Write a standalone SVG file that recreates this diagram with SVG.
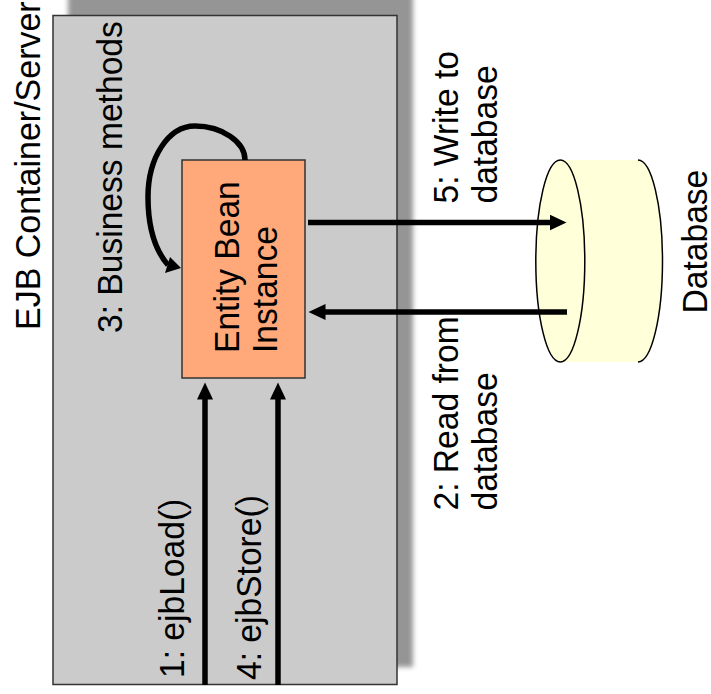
<svg xmlns="http://www.w3.org/2000/svg" width="711" height="694" viewBox="0 0 711 694">
<defs>
<filter id="blur" x="-5%" y="-5%" width="110%" height="110%"><feGaussianBlur stdDeviation="2.5"/></filter>
<marker id="arrow" markerUnits="userSpaceOnUse" markerWidth="18" markerHeight="18" refX="0.5" refY="8" orient="auto"><path d="M0 0L17 8L0 16Z" fill="#000"/></marker>
</defs>
<style>
text{font-family:"Liberation Sans",Arial,sans-serif;font-size:33.600px;fill:#000}
.big{font-size:34px}
.c{fill:none;stroke:#000;stroke-width:5.500}
</style>
<rect width="711" height="694" fill="#fff"/>
<g id="container">
<rect x="68" y="-6" width="345" height="673" fill="#959595" filter="url(#blur)"/>
<rect x="53" y="15.500" width="344" height="669" fill="#cbcbcb" stroke="#333" stroke-width="1.500"/>
<text class="big" transform="translate(40 330) rotate(-90) scale(1 1.04)">EJB Container/Server</text>
</g>
<g id="entity">
<rect x="182" y="160" width="123" height="218" fill="#ffa97a" stroke="#333" stroke-width="1.500"/>
<text transform="translate(238.500 353) rotate(-90) scale(1 1.04)">Entity Bean</text>
<text transform="translate(277 353) rotate(-90) scale(1 1.04)">Instance</text>
</g>
<g id="database">
<path d="M560 160H638A24.500 101 0 0 1 638 362H560Z" fill="#ffffd9"/>
<path d="M638 160A24.500 101 0 0 1 638 362" fill="none" stroke="#000" stroke-width="1.500"/>
<ellipse cx="560.300" cy="261" rx="24.500" ry="101" fill="#ffffd9" stroke="#000" stroke-width="1.500"/>
<text transform="translate(707 313.500) rotate(-90) scale(1 1.04)">Database</text>
</g>
<g id="connectors">
<path class="c" d="M245 160C245 142 222 126 195 126C168 126 148 158 148 197C148 228 155 250 168 265"/>
<path d="M181 268L165 273L170 257Z" fill="#000"/>
<path class="c" d="M308 222.500H550" marker-end="url(#arrow)"/>
<path class="c" d="M567 312H325" marker-end="url(#arrow)"/>
<path class="c" d="M205 685V399" marker-end="url(#arrow)"/>
<path class="c" d="M278 685V399" marker-end="url(#arrow)"/>
</g>
<g id="labels">
<text transform="translate(122 333) rotate(-90) scale(1 1.04)">3: Business methods</text>
<text transform="translate(458 203.500) rotate(-90) scale(1 1.04)">5: Write to</text>
<text transform="translate(497 203.500) rotate(-90) scale(1 1.04)">database</text>
<text transform="translate(458 510.500) rotate(-90) scale(1 1.04)">2: Read from</text>
<text transform="translate(497 510.500) rotate(-90) scale(1 1.04)">database</text>
<text transform="translate(184 678) rotate(-90) scale(1 1.04)">1: ejbLoad()</text>
<text transform="translate(260.500 680) rotate(-90) scale(1 1.04)">4: ejbStore()</text>
</g>
</svg>
